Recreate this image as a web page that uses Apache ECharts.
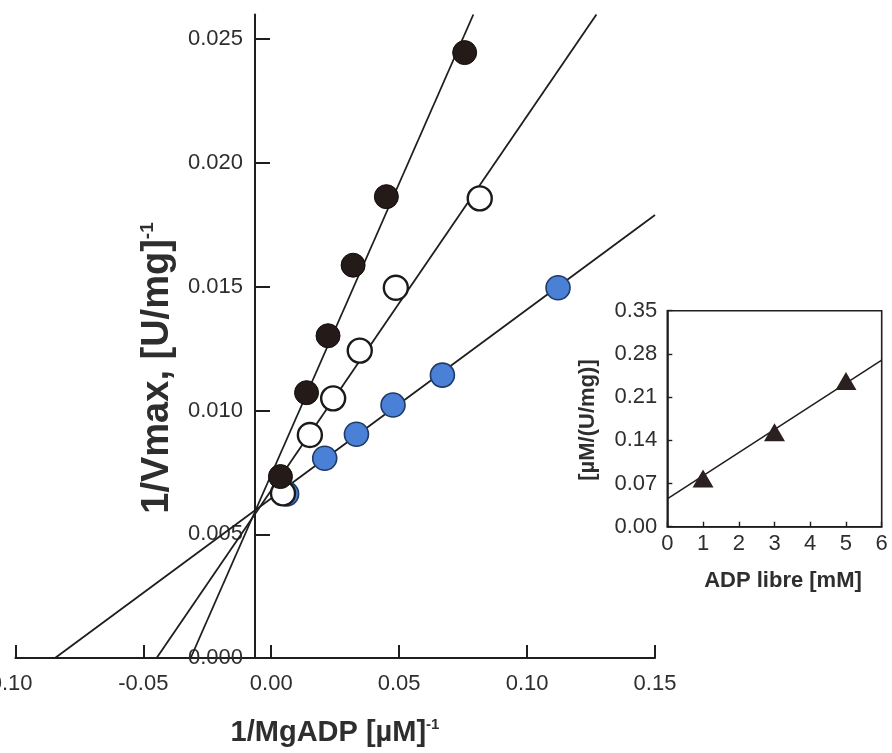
<!DOCTYPE html>
<html>
<head>
<meta charset="utf-8">
<script src="https://cdn.jsdelivr.net/npm/echarts@6/dist/echarts.min.js"></script>
<style>
html,body{margin:0;padding:0;background:#fff;}
#c{width:892px;height:753px;}
</style>
</head>
<body>
<div id="c"></div>
<script>
// ---- Main plot data (1/MgADP vs 1/Vmax) ----
const blackX = [0.0036, 0.0138, 0.0222, 0.0320, 0.0450, 0.0756];
const blackY = [0.00733, 0.01072, 0.01302, 0.01587, 0.01864, 0.02446];
const whiteX = [0.0046, 0.0151, 0.0242, 0.0346, 0.0487, 0.0815];
const whiteY = [0.00665, 0.00901, 0.01049, 0.01242, 0.01496, 0.01857];
const blueX  = [0.0060, 0.0209, 0.0333, 0.0476, 0.0669, 0.1121];
const blueY  = [0.00663, 0.00807, 0.00904, 0.01022, 0.01143, 0.01496];
// fitted lines, endpoints [x, y]
const blackFit = [[-0.0315, 0], [0.0790, 0.026]];
const whiteFit = [[-0.0448, 0], [0.1271, 0.026]];
const blueFit  = [[-0.0845, 0], [0.15, 0.0179]];
// main axis ticks
const mainXTicks = [-0.10, -0.05, 0.00, 0.05, 0.10, 0.15];
const mainYTicks = [0.000, 0.005, 0.010, 0.015, 0.020, 0.025];

// ---- Inset data (ADP libre vs slope) ----
const insetX = [1, 3, 5];
const insetY = [0.078, 0.153, 0.236];
const insetFit = [[0, 0.045], [6, 0.270]];
const insetXTicks = [0, 1, 2, 3, 4, 5, 6];
const insetYTicks = [0.00, 0.07, 0.14, 0.21, 0.28, 0.35];

const FONT = "'Liberation Sans', Arial, sans-serif";
const AX = '#1e1e1e';
const TXT = '#2e2e2e';

function zip(a, b) { return a.map((v, i) => [v, b[i]]); }

const chart = echarts.init(document.getElementById('c'), null, {renderer: 'canvas'});

const mainLeft = 15.4, mainTop = 14.5, mainW = 639.6, mainH = 643.5;
const yAxisPx = 255;

const option = {
  backgroundColor: '#ffffff',
  animation: false,
  textStyle: {fontFamily: FONT},
  grid: [
    {left: mainLeft, top: mainTop, width: mainW, height: mainH, containLabel: false, outerBoundsMode: 'none'},
    {left: 667.3, top: 310.7, width: 214.4, height: 216, containLabel: false, outerBoundsMode: 'none',
     show: true, borderColor: AX, borderWidth: 1.6, backgroundColor: 'transparent'}
  ],
  xAxis: [
    {
      gridIndex: 0, type: 'value', min: -0.10, max: 0.15, interval: 0.05,
      axisLine: {show: true, onZero: false, lineStyle: {color: AX, width: 2}},
      axisTick: {show: true, inside: true, length: 13, lineStyle: {color: AX, width: 2},
                 customValues: mainXTicks},
      axisLabel: {show: true, fontSize: 22, color: TXT, fontFamily: FONT, margin: 15,
                  customValues: mainXTicks,
                  formatter: v => {
                    const s = (Math.abs(v) < 1e-9 ? 0 : v).toFixed(2);
                    return v <= mainXTicks[0] + 1e-9 ? '{m|' + s + '}' : s;
                  },
                  rich: {m: {fontSize: 22, color: TXT, fontFamily: FONT, padding: [0, 16, 0, 0]}}},
      splitLine: {show: false}
    },
    {
      gridIndex: 1, type: 'value', min: 0, max: 6, interval: 1,
      axisLine: {show: true, onZero: false, lineStyle: {color: AX, width: 1.6}},
      axisTick: {show: true, inside: true, length: 5, lineStyle: {color: AX, width: 1.4},
                 customValues: insetXTicks},
      axisLabel: {show: true, fontSize: 22, color: TXT, fontFamily: FONT, margin: 6,
                  customValues: insetXTicks, formatter: v => String(Math.round(v))},
      splitLine: {show: false}
    }
  ],
  yAxis: [
    {
      gridIndex: 0, type: 'value', min: 0, max: 0.026, position: 'left',
      offset: -(yAxisPx - mainLeft),
      axisLine: {show: true, onZero: false, lineStyle: {color: AX, width: 2}},
      axisTick: {show: true, inside: true, length: 15, lineStyle: {color: AX, width: 2},
                 customValues: mainYTicks},
      axisLabel: {show: true, fontSize: 22, color: TXT, fontFamily: FONT, margin: 12,
                  customValues: mainYTicks, formatter: v => v.toFixed(3)},
      splitLine: {show: false}
    },
    {
      gridIndex: 1, type: 'value', min: 0, max: 0.35, position: 'left',
      axisLine: {show: true, onZero: false, lineStyle: {color: AX, width: 1.6}},
      axisTick: {show: true, inside: true, length: 5, lineStyle: {color: AX, width: 1.4},
                 customValues: insetYTicks},
      axisLabel: {show: true, fontSize: 22, color: TXT, fontFamily: FONT, margin: 10,
                  customValues: insetYTicks, formatter: v => v.toFixed(2)},
      splitLine: {show: false}
    }
  ],
  series: [
    {type: 'line', xAxisIndex: 0, yAxisIndex: 0, data: blueFit, symbol: 'none', z: 2,
     lineStyle: {color: AX, width: 1.8}},
    {type: 'line', xAxisIndex: 0, yAxisIndex: 0, data: whiteFit, symbol: 'none', z: 2,
     lineStyle: {color: AX, width: 1.8}},
    {type: 'line', xAxisIndex: 0, yAxisIndex: 0, data: blackFit, symbol: 'none', z: 2,
     lineStyle: {color: AX, width: 1.8}},
    {type: 'scatter', xAxisIndex: 0, yAxisIndex: 0, data: zip(blueX, blueY), symbol: 'circle',
     symbolSize: 24, z: 3,
     itemStyle: {color: '#4a80d6', borderColor: '#1f3a66', borderWidth: 1.6, opacity: 1}},
    {type: 'scatter', xAxisIndex: 0, yAxisIndex: 0, data: zip(whiteX, whiteY), symbol: 'circle',
     symbolSize: 24, z: 4,
     itemStyle: {color: '#ffffff', borderColor: '#1a1a1a', borderWidth: 2.4, opacity: 1}},
    {type: 'scatter', xAxisIndex: 0, yAxisIndex: 0, data: zip(blackX, blackY), symbol: 'circle',
     symbolSize: 24, z: 5,
     itemStyle: {color: '#241a17', borderColor: '#120c0a', borderWidth: 1, opacity: 1}},
    {type: 'line', xAxisIndex: 1, yAxisIndex: 1, data: insetFit, symbol: 'none', z: 2,
     lineStyle: {color: AX, width: 1.5}},
    {type: 'scatter', xAxisIndex: 1, yAxisIndex: 1, data: zip(insetX, insetY), symbol: 'triangle',
     symbolSize: [21, 18], z: 3,
     itemStyle: {color: '#2a2020', opacity: 1}}
  ],
  graphic: [
    {type: 'text', x: 335, y: 733, z: 10,
     style: {text: '{a|1/MgADP [µM]}{s|-1}', align: 'center', verticalAlign: 'middle',
             rich: {a: {fontSize: 29, fontWeight: 'bold', fontFamily: FONT, fill: TXT, lineHeight: 32},
                    s: {fontSize: 15, fontWeight: 'bold', fontFamily: FONT, fill: TXT, verticalAlign: 'top', lineHeight: 15}}}},
    {type: 'text', x: 158, y: 368, rotation: Math.PI / 2, z: 10,
     style: {text: '{a|1/Vmax, [U/mg]}{s|-1}', align: 'center', verticalAlign: 'middle',
             rich: {a: {fontSize: 38, fontWeight: 'bold', fontFamily: FONT, fill: TXT, lineHeight: 40},
                    s: {fontSize: 19, fontWeight: 'bold', fontFamily: FONT, fill: TXT, verticalAlign: 'top', lineHeight: 19}}}},
    {type: 'text', x: 783, y: 581, z: 10,
     style: {text: 'ADP libre [mM]', align: 'center', verticalAlign: 'middle',
             fontSize: 22, fontWeight: 'bold', fontFamily: FONT, fill: TXT}},
    {type: 'text', x: 588, y: 420, rotation: Math.PI / 2, z: 10,
     style: {text: '[µM/(U/mg)]', align: 'center', verticalAlign: 'middle',
             fontSize: 22, fontWeight: 'bold', fontFamily: FONT, fill: TXT}}
  ]
};
chart.setOption(option);
</script>
</body>
</html>
